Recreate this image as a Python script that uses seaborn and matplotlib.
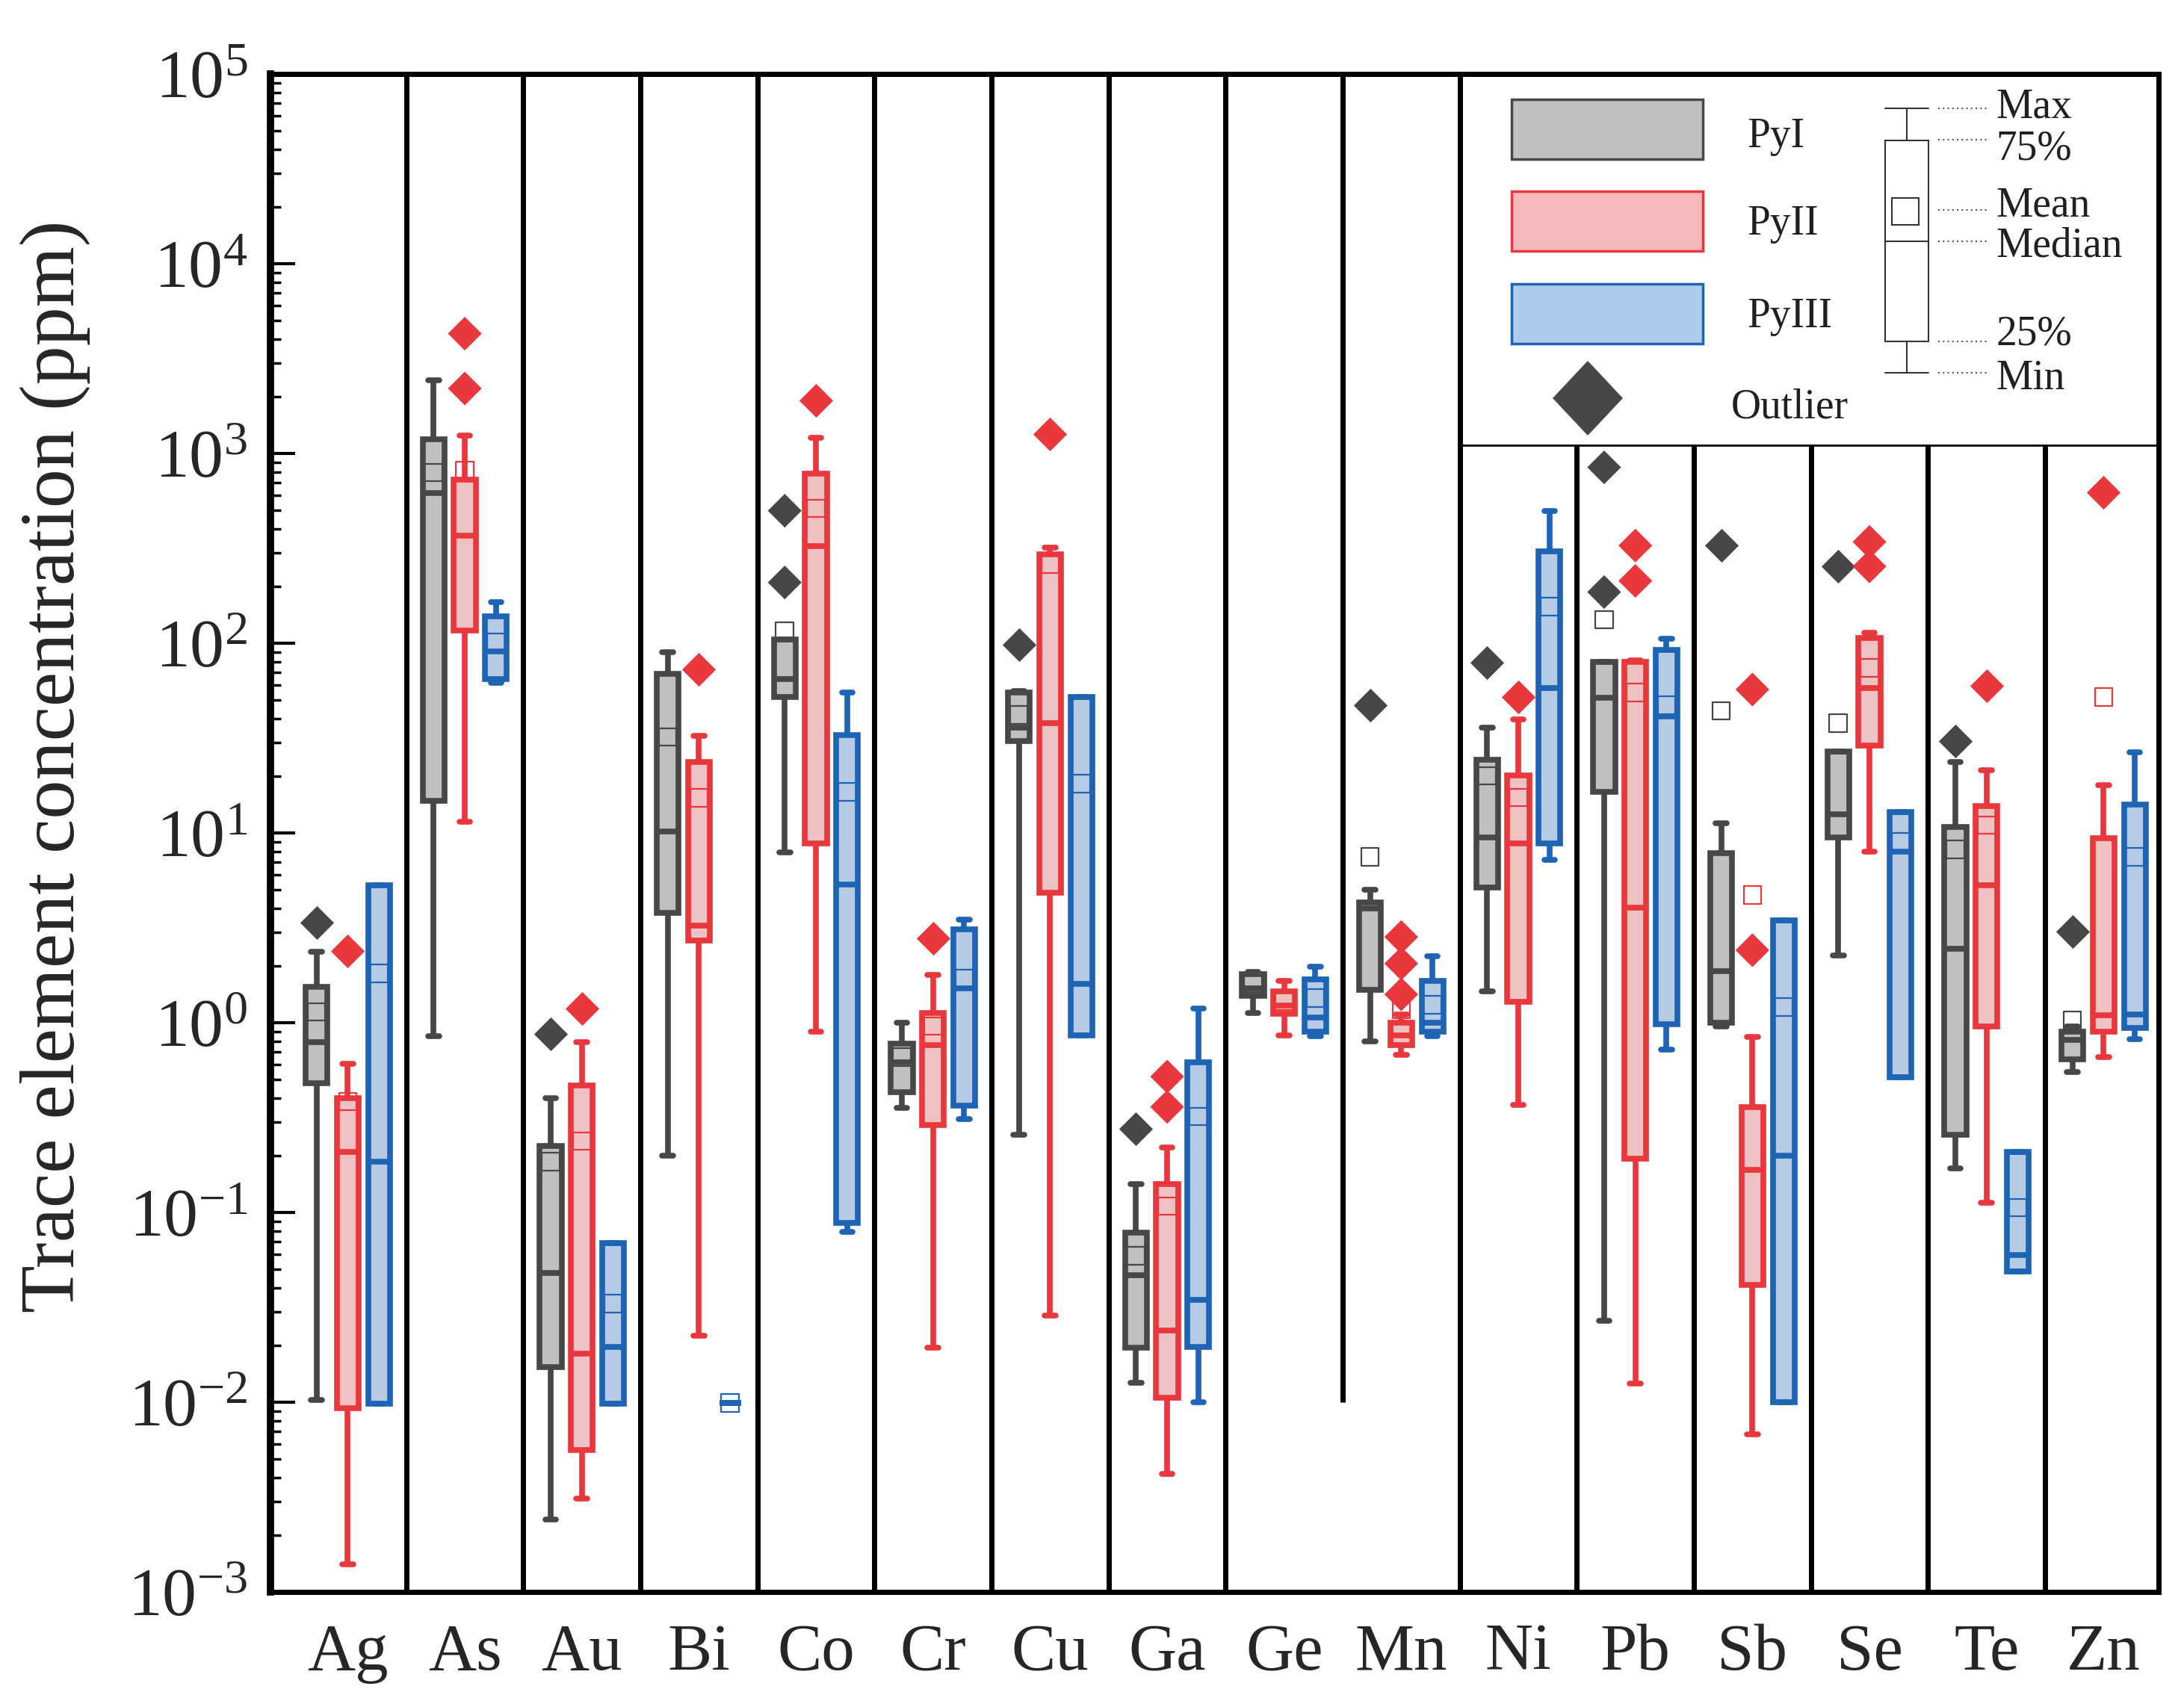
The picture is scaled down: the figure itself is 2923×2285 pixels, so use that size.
import numpy as np
import pandas as pd
import matplotlib
matplotlib.use("Agg")
import matplotlib.pyplot as plt
import seaborn as sns
from matplotlib.patches import Rectangle, Polygon
from matplotlib.ticker import LogLocator, NullFormatter

elements = ["Ag", "As", "Au", "Bi", "Co", "Cr", "Cu", "Ga",
            "Ge", "Mn", "Ni", "Pb", "Sb", "Se", "Te", "Zn"]
types = ["PyI", "PyII", "PyIII"]

# min, 25%, median, 75%, max (ppm) for each element
pyI_stats = [
    [0.0103, 0.48, 0.79, 1.55, 2.36],
    [0.85, 14.8, 620, 1186, 2430],
    [0.0024, 0.0153, 0.048, 0.225, 0.40],
    [0.20, 3.8, 10.2, 69, 90],
    [7.9, 52, 65, 105, 105],
    [0.356, 0.43, 0.62, 0.776, 1.0],
    [0.257, 30.5, 36, 55, 56],
    [0.0127, 0.0193, 0.0466, 0.078, 0.141],
    [1.13, 1.39, 1.52, 1.80, 1.85],
    [0.80, 1.49, 3.99, 4.32, 5.0],
    [1.47, 5.16, 9.5, 24.3, 36],
    [0.0268, 16.5, 51.6, 80, 80],
    [0.96, 1.0, 1.87, 7.8, 11.2],
    [2.26, 9.5, 12.6, 26.8, 26.8],
    [0.171, 0.257, 2.45, 10.8, 23.7],
    [0.55, 0.64, 0.81, 0.90, 0.955],
]
pyII_stats = [
    [0.0014, 0.0093, 0.208, 0.40, 0.61],
    [11.5, 117, 370, 730, 1242],
    [0.0031, 0.0056, 0.018, 0.465, 0.79],
    [0.0224, 2.7, 3.24, 23.7, 32.6],
    [0.90, 8.8, 326, 780, 1213],
    [0.0194, 0.289, 0.76, 1.13, 1.79],
    [0.0285, 4.84, 38, 295, 320],
    [0.0042, 0.0106, 0.0238, 0.141, 0.221],
    [0.86, 1.11, 1.23, 1.47, 1.66],
    [0.68, 0.76, 0.86, 1.0, 1.1],
    [0.37, 1.29, 8.8, 20.1, 39.8],
    [0.0125, 0.192, 4.05, 79.6, 81],
    [0.0068, 0.0416, 0.167, 0.36, 0.84],
    [8.0, 28.8, 58, 107, 114],
    [0.113, 0.955, 5.3, 13.8, 21.4],
    [0.66, 0.90, 1.09, 9.4, 17.8],
]
pyIII_stats = [
    [0.0098, 0.0098, 0.186, 5.3, 5.3],
    [62, 65, 90.6, 138, 164],
    [0.0098, 0.0098, 0.0196, 0.069, 0.069],
    [0.0099, 0.0099, 0.0099, 0.0099, 0.0099],
    [0.079, 0.088, 5.37, 32.9, 55],
    [0.31, 0.364, 1.52, 3.1, 3.5],
    [0.86, 0.86, 1.6, 52, 52],
    [0.0100, 0.0195, 0.0345, 0.62, 1.19],
    [0.85, 0.90, 1.07, 1.69, 1.97],
    [0.85, 0.90, 1.0, 1.66, 2.24],
    [7.2, 8.8, 58, 304, 498],
    [0.72, 0.98, 41, 92.4, 106],
    [0.0100, 0.0100, 0.2, 3.45, 3.45],
    [0.516, 0.516, 8.0, 12.9, 12.9],
    [0.049, 0.049, 0.0596, 0.208, 0.208],
    [0.82, 0.94, 1.1, 14.1, 26.6],
]

pyI_mean = [1.14, 795, 0.185, 32, 116, 0.66, 42, 0.059,
            1.62, 7.5, 20, 133, 44, 38, 8.2, 1.03]
pyII_mean = [0.384, 812, 0.238, 15.3, 513, 0.96, 260, 0.108,
             1.30, 1.17, 15.4, 55, 4.71, 74, 11, 52]
pyIII_mean = [1.82, 101, 0.033, 0.0099, 16.5, 1.71, 18.2, 0.32,
              1.35, 1.24, 156, 47, 1.21, 9.0, 0.106, 7.5]

pyI_outliers = [("Ag", 3.36), ("Au", 0.875), ("Co", 499), ("Co", 209),
                ("Cu", 98), ("Ga", 0.275), ("Mn", 47), ("Ni", 79),
                ("Pb", 845), ("Pb", 186), ("Sb", 327), ("Se", 254),
                ("Te", 30.4), ("Zn", 3.01)]
pyII_outliers = [("Ag", 2.38), ("As", 4280), ("As", 2200), ("Au", 1.19),
                 ("Bi", 73), ("Co", 1912), ("Cr", 2.78), ("Cu", 1270),
                 ("Ga", 0.52), ("Ga", 0.36), ("Mn", 2.83), ("Mn", 2.05),
                 ("Mn", 1.41), ("Ni", 52), ("Pb", 327), ("Pb", 213),
                 ("Sb", 57), ("Sb", 2.41), ("Se", 342), ("Se", 254),
                 ("Te", 59.6), ("Zn", 623)]

face = {"PyI": "#c0c0c0", "PyII": "#f5b9bb", "PyIII": "#aecbeb"}
edge = {"PyI": "#474747", "PyII": "#e8383d", "PyIII": "#1e64b4"}

stats = {"PyI": pyI_stats, "PyII": pyII_stats, "PyIII": pyIII_stats}
means = {"PyI": pyI_mean, "PyII": pyII_mean, "PyIII": pyIII_mean}
outliers = {"PyI": pyI_outliers, "PyII": pyII_outliers, "PyIII": []}

box_rows = [(el, t, v) for t in types for el, five in zip(elements, stats[t]) for v in five]
box_df = pd.DataFrame(box_rows, columns=["element", "type", "value"])
mean_df = pd.DataFrame([(el, t, m) for t in types for el, m in zip(elements, means[t])],
                       columns=["element", "type", "value"])
out_df = pd.DataFrame([(el, t, v) for t in types for el, v in outliers[t]],
                      columns=["element", "type", "value"])

sns.set_style("ticks")
plt.rcParams["font.family"] = ["Liberation Serif", "DejaVu Serif"]
plt.rcParams["mathtext.fontset"] = "stix"

W, H = 2923, 2285
fig = plt.figure(figsize=(W / 100, H / 100), dpi=100)
ax = fig.add_axes([362 / W, 1 - 2131 / H, (2889 - 362) / W, (2131 - 99) / H])

common = dict(x="element", y="value", hue="type", order=elements, hue_order=types,
              dodge=True, log_scale=True, legend=False, ax=ax)

for t in types:
    sns.boxplot(data=box_df[box_df["type"] == t], palette=face, linecolor=edge[t],
                linewidth=5.5, whis=(0, 100), showfliers=False, width=0.8, gap=0.3,
                **common)

# mean markers (open squares)
for t in types:
    n0 = len(ax.collections)
    sns.stripplot(data=mean_df[mean_df["type"] == t], palette=edge,
                  jitter=False, marker="s", size=17, linewidth=1.6, **common)
    for c in ax.collections[n0:]:
        c.set_facecolor("none")
        c.set_edgecolor(edge[t])
        c.set_zorder(4)

# outliers (filled diamonds)
for t in types:
    sub = out_df[out_df["type"] == t]
    if sub.empty:
        continue
    n0 = len(ax.collections)
    sns.stripplot(data=sub, palette=edge, jitter=False, marker="D",
                  size=23, linewidth=0, **common)
    for c in ax.collections[n0:]:
        c.set_zorder(4)

# separators between elements
legend_bottom = 1.1e3
for k in range(len(elements) - 1):
    lo, hi = 1e-3, 1e5
    if elements[k] == "Ge":
        lo = 1e-2
    if k >= 10:
        hi = legend_bottom
    ax.vlines(k + 0.5, lo, hi, colors="black", lw=5, zorder=3)

ax.set_xlim(-0.66, 15.47)
ax.set_ylim(1e-3, 1e5)
ax.yaxis.set_major_locator(LogLocator(base=10, numticks=20))
ax.yaxis.set_minor_locator(LogLocator(base=10, subs=np.arange(2, 10), numticks=20))
ax.yaxis.set_minor_formatter(NullFormatter())
ax.tick_params(axis="y", which="major", direction="in", length=24, width=3,
               labelsize=66, pad=22, color="black")
ax.tick_params(axis="y", which="minor", direction="in", length=10, width=2.5,
               color="black")
ax.tick_params(axis="x", length=0, labelsize=64, pad=30)
for s in ax.spines.values():
    s.set_linewidth(5)
    s.set_color("black")
ax.spines["left"].set_linewidth(7)
ax.set_xlabel("")
ax.set_ylabel("Trace element concentration (ppm)", fontsize=75)
ax.yaxis.set_label_coords(-0.0954, 0.544)

# legend drawn on an overlay in figure pixels
lax = fig.add_axes([0, 0, 1, 1], zorder=5)
lax.set_xlim(0, W)
lax.set_ylim(H, 0)
lax.axis("off")
lax.patch.set_alpha(0)

txt = dict(fontsize=40, color="#231f20", va="baseline", ha="left")
lax.plot([1955, 2889], [596, 596], color="black", lw=2)
for t, y0, yb in [("PyI", 133, 197), ("PyII", 256, 314), ("PyIII", 380, 438)]:
    lax.add_patch(Rectangle((2023, y0), 256, 80, facecolor=face[t],
                            edgecolor=edge[t], lw=2.5))
    lax.text(2338, yb, t, **txt)
lax.add_patch(Polygon([(2125, 484), (2171, 533), (2125, 582), (2079, 533)],
                      closed=True, color="#474747"))
lax.text(2317, 560, "Outlier", **txt)

k = "#333333"
lax.add_patch(Rectangle((2523, 188), 58, 269, fill=False, ec=k, lw=1.5))
lax.plot([2552, 2552], [145, 188], color=k, lw=1.5)
lax.plot([2552, 2552], [457, 499], color=k, lw=1.5)
lax.plot([2523, 2581], [145, 145], color=k, lw=1.5)
lax.plot([2523, 2581], [499, 499], color=k, lw=1.5)
lax.plot([2523, 2581], [323, 323], color=k, lw=1.5)
lax.add_patch(Rectangle((2532, 265), 36, 36, fill=False, ec=k, lw=1.5))
for lab, yl, yb in [("Max", 145, 157), ("75%", 187, 213), ("Mean", 281, 290),
                    ("Median", 323, 344), ("25%", 457, 462), ("Min", 499, 521)]:
    lax.plot([2594, 2662], [yl, yl], color="#555555", lw=1.5, ls=(0, (1, 2)))
    lax.text(2671, yb, lab, **txt)

fig.savefig("out.png", dpi=100)
